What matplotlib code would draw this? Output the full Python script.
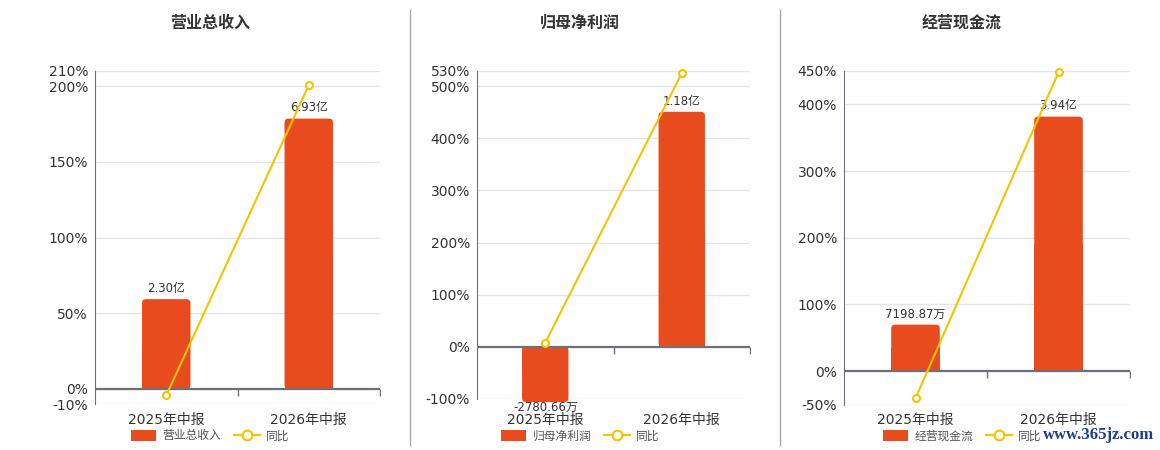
import numpy as np
import matplotlib
matplotlib.use('Agg')
import matplotlib.pyplot as plt
from matplotlib.patches import FancyBboxPatch, Rectangle, Patch
from matplotlib.lines import Line2D

plt.rcParams['font.family'] = ['DejaVu Sans', 'Noto Sans CJK SC']

# datos
titulos = ['营业总收入', '归母净利润', '经营现金流']
periodos = ['2025年中报', '2026年中报']

ingresos = [2.30, 6.93]            # 亿
beneficio = [-0.278066, 1.18]      # 亿
flujo_caja = [0.719887, 3.94]      # 亿
etiquetas_ingresos = ['2.30亿', '6.93亿']
etiquetas_beneficio = ['-2780.66万', '1.18亿']
etiquetas_flujo = ['7198.87万', '3.94亿']

yoy_ingresos = [-4.3, 200.6]       # %
yoy_beneficio = [7.7, 524.8]
yoy_flujo = [-40.8, 448.0]

ticks_ingresos = [-10, 0, 50, 100, 150, 200, 210]
ticks_beneficio = [-100, 0, 100, 200, 300, 400, 500, 530]
ticks_flujo = [-50, 0, 100, 200, 300, 400, 450]

# valor de la barra que coincide con el tope del eje de porcentajes
tope_barras = [8.15, 1.387, 4.646]

W, H = 1160, 450
ROJO = '#e84c1e'
AMARILLO = '#f2c500'
GRIS_EJE = '#6e7079'
GRID = '#e0e6f1'
TEXTO = '#333333'

fig = plt.figure(figsize=(W / 100, H / 100), dpi=100)

# (izq, der, arriba, abajo) en pixeles
cajas = [(95, 380, 71, 404), (477, 750, 70.6, 398.8), (844, 1130, 71, 404.5)]
centros = [210, 580, 962]

paneles = [
    (ingresos, etiquetas_ingresos, yoy_ingresos, ticks_ingresos),
    (beneficio, etiquetas_beneficio, yoy_beneficio, ticks_beneficio),
    (flujo_caja, etiquetas_flujo, yoy_flujo, ticks_flujo),
]


def barra_redondeada(bx, x, v, ancho, w_px, h_px, r_px=4):
    x0, x1 = bx.get_xlim()
    y0, y1 = bx.get_ylim()
    xupp = (x1 - x0) / w_px
    yupp = (y1 - y0) / h_px
    p = FancyBboxPatch((x - ancho / 2, min(0, v)), ancho, abs(v),
                       boxstyle=f"round,pad=0,rounding_size={r_px * xupp}",
                       mutation_aspect=yupp / xupp, fc=ROJO, ec='none', zorder=2,
                       clip_on=False)
    bx.add_patch(p)
    bx.add_patch(Rectangle((x - ancho / 2, min(0, v / 2)), ancho, abs(v) / 2,
                           fc=ROJO, ec='none', zorder=2, clip_on=False))


for i, (valores, etiquetas, yoy, ticks) in enumerate(paneles):
    l, r, t, b = cajas[i]
    rect = [l / W, 1 - b / H, (r - l) / W, (b - t) / H]
    ax = fig.add_axes(rect)
    ymin, ymax = ticks[0], ticks[-1]
    ax.set_xlim(-0.5, 1.5)
    ax.set_ylim(ymin, ymax)
    ax.set_yticks(ticks)
    ax.set_yticklabels([f'{v}%' for v in ticks])
    ax.yaxis.grid(True, color=GRID, lw=1)
    ax.set_axisbelow(True)
    for s in ['top', 'right', 'bottom']:
        ax.spines[s].set_visible(False)
    ax.spines['left'].set_color(GRIS_EJE)
    ax.tick_params(axis='y', length=0, pad=5, labelsize=10, labelcolor=TEXTO)
    pad = (413 - b) * 0.72
    ax.set_xticks(range(len(periodos)))
    ax.set_xticklabels(periodos)
    ax.tick_params(axis='x', length=0, pad=pad, labelsize=10, labelcolor=TEXTO)

    # eje de barras
    bx = ax.twinx()
    k = tope_barras[i] / ymax
    bx.set_ylim(ymin * k, ymax * k)
    bx.set_xlim(-0.5, 1.5)
    bx.axis('off')
    for j, v in enumerate(valores):
        barra_redondeada(bx, j, v, 0.34, r - l, b - t)
        if v >= 0:
            bx.annotate(etiquetas[j], (j, v), xytext=(0, 3), textcoords='offset points',
                        ha='center', va='bottom', fontsize=8.5, color=TEXTO,
                        annotation_clip=False)
        else:
            bx.annotate(etiquetas[j], (j, v), xytext=(0, 1), textcoords='offset points',
                        ha='center', va='top', fontsize=8.5, color=TEXTO,
                        annotation_clip=False, zorder=5)
    bx.axhline(0, color=GRIS_EJE, lw=1.6, zorder=3)
    bx.plot([0.5, 1.5], [0, 0], ls='none', marker=3, ms=5, mew=1, color=GRIS_EJE, zorder=3)

    # eje de la linea
    lx = ax.twinx()
    lx.set_ylim(ymin, ymax)
    lx.set_xlim(-0.5, 1.5)
    lx.axis('off')
    lx.plot(range(len(yoy)), yoy, color=AMARILLO, lw=1.5, marker='o', ms=5,
            mfc='white', mec=AMARILLO, mew=1.5, clip_on=False, zorder=4)

    fig.text(centros[i] / W, 1 - 23 / H, titulos[i], ha='center', va='center',
             fontsize=11.5, fontweight='bold', color=TEXTO)

    manejadores = [Patch(fc=ROJO, ec='none'),
                   Line2D([], [], color=AMARILLO, lw=1.5, marker='o', ms=7,
                          mfc='white', mec=AMARILLO, mew=1.5)]
    fig.legend(manejadores, [titulos[i], '同比'], loc='center',
               bbox_to_anchor=(centros[i] / W, 1 - 436 / H), ncol=2, frameon=False,
               fontsize=8.5, labelcolor='#555555', handlelength=2.2, handleheight=1.1,
               handletextpad=0.5, columnspacing=1.1, borderpad=0)

# separadores
for xs in [410, 780]:
    fig.add_artist(Line2D([xs / W, xs / W], [1 - 10 / H, 1 - 445 / H],
                          color='#aaaaaa', lw=1))

fig.text(1154 / W, 1 - 435 / H, 'www.365jz.com', ha='right', va='center',
         fontsize=12, fontweight='bold', color='#1b3d8f', family='Liberation Serif')

fig.savefig('out.png', dpi=100)
